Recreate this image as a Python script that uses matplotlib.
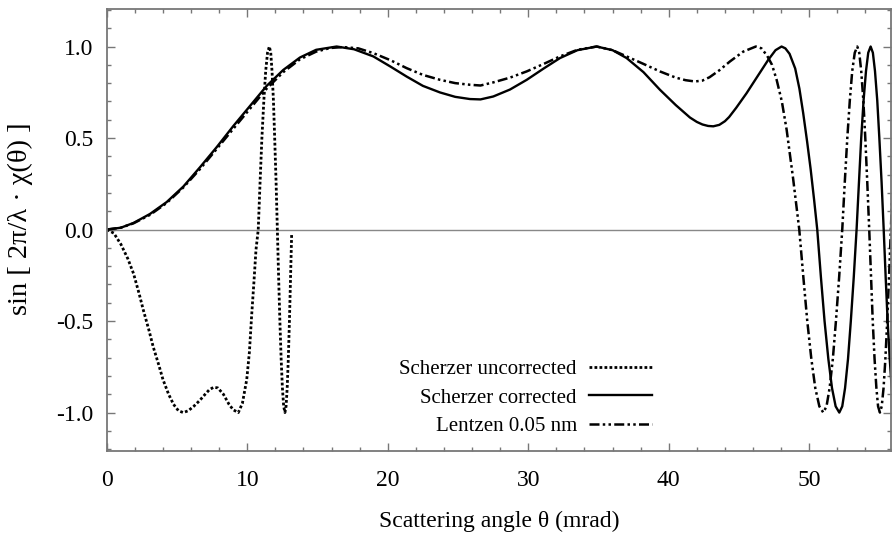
import matplotlib
matplotlib.use("Agg")
import matplotlib.pyplot as plt
from matplotlib.ticker import MultipleLocator

plt.rcParams["font.family"] = ["Liberation Serif", "DejaVu Serif"]

# Scherzer uncorrected (dotted)
theta_unc = [0.0, 0.5, 1.0, 1.5, 1.9, 2.3, 2.6, 3.0, 3.3, 3.7, 4.0, 4.4, 4.75, 5.1,
             5.44, 5.8, 6.2, 6.6, 7.0, 7.3, 7.6, 7.9, 8.3, 8.7, 9.0, 9.36, 9.65,
             9.96, 10.15, 10.31, 10.47, 10.62, 10.78, 10.91, 11.04, 11.18, 11.31,
             11.44, 11.57, 11.67, 11.76, 11.86, 11.95, 12.05, 12.14, 12.23, 12.32,
             12.41, 12.5, 12.59, 12.68, 12.76, 12.84, 12.92, 13.0, 13.08, 13.16]
sin_unc = [0.0, -0.02, -0.08, -0.16, -0.24, -0.35, -0.44, -0.55, -0.64, -0.74, -0.82,
           -0.9, -0.955, -0.99, -1.0, -0.99, -0.965, -0.935, -0.9, -0.875, -0.862,
           -0.865, -0.9, -0.955, -0.985, -1.0, -0.95, -0.82, -0.67, -0.47, -0.29,
           -0.11, 0.0, 0.259, 0.5, 0.707, 0.866, 0.966, 1.0, 0.966, 0.866, 0.707,
           0.5, 0.259, 0.0, -0.259, -0.5, -0.707, -0.866, -0.966, -1.0, -0.966,
           -0.866, -0.707, -0.5, -0.259, -0.02]

# Scherzer corrected (solid)
theta_cor = [0.0, 1.0, 1.9, 3.07, 4.26, 5.45, 6.63, 7.82, 9.0, 10.19, 11.38, 12.56,
             13.75, 14.9, 16.36, 17.6, 18.97, 20.2, 21.34, 22.5, 23.72, 24.8, 25.85,
             26.6, 27.51, 28.7, 29.89, 31.1, 32.26, 33.5, 34.87, 36.0, 37.0, 38.2,
             39.37, 40.5, 41.51, 42.0, 42.4, 42.8, 43.17, 43.6, 44.0, 44.3, 44.8,
             45.54, 46.3, 47.08, 47.6, 48.03, 48.3, 48.6, 49.0, 49.3, 49.57, 49.85,
             50.1, 50.35, 50.57, 50.83, 51.09, 51.36, 51.62, 51.88, 52.14, 52.35,
             52.55, 52.76, 52.96, 53.17, 53.37, 53.54, 53.7, 53.87, 54.04, 54.2,
             54.37, 54.53, 54.68, 54.84, 54.99, 55.15, 55.3, 55.44, 55.58, 55.73,
             55.87, 56.01]
sin_cor = [0.0, 0.01, 0.036, 0.085, 0.15, 0.235, 0.34, 0.45, 0.565, 0.675, 0.785,
           0.872, 0.94, 0.982, 1.0, 0.985, 0.946, 0.89, 0.836, 0.785, 0.749, 0.725,
           0.713, 0.711, 0.727, 0.765, 0.818, 0.88, 0.937, 0.98, 1.0, 0.98, 0.937,
           0.86, 0.764, 0.68, 0.612, 0.588, 0.574, 0.566, 0.564, 0.572, 0.592, 0.615,
           0.665, 0.745, 0.835, 0.927, 0.98, 1.0, 0.99, 0.96, 0.88, 0.77, 0.636,
           0.48, 0.33, 0.16, 0.0, -0.259, -0.5, -0.707, -0.866, -0.966, -1.0,
           -0.966, -0.866, -0.707, -0.5, -0.259, 0.0, 0.259, 0.5, 0.707, 0.866,
           0.966, 1.0, 0.966, 0.866, 0.707, 0.5, 0.259, 0.0, -0.259, -0.5, -0.707,
           -0.866, -0.966]

# Lentzen 0.05 nm (dash-dot-dot)
theta_len = [0.0, 1.0, 1.9, 3.07, 4.26, 5.45, 6.63, 7.82, 9.0, 10.19, 11.38, 12.56,
             13.75, 14.9, 15.9, 16.83, 17.9, 18.97, 20.2, 21.34, 22.5, 23.72, 24.8,
             25.85, 26.6, 27.51, 28.7, 29.89, 31.1, 32.26, 33.5, 34.87, 36.0, 37.0,
             38.2, 39.37, 40.5, 41.2, 41.86, 42.4, 42.9, 43.6, 44.35, 45.3, 46.2,
             46.6, 47.0, 47.35, 47.68, 48.05, 48.39, 48.85, 49.29, 49.58, 49.86,
             50.15, 50.43, 50.72, 51.0, 51.23, 51.45, 51.68, 51.9, 52.13, 52.35,
             52.53, 52.71, 52.89, 53.06, 53.24, 53.42, 53.56, 53.7, 53.85, 53.99,
             54.13, 54.27, 54.4, 54.52, 54.65, 54.78, 54.9, 55.03, 55.16, 55.29,
             55.42, 55.55, 55.68, 55.81, 55.94]
sin_len = [0.0, 0.01, 0.034, 0.08, 0.145, 0.23, 0.33, 0.44, 0.55, 0.66, 0.77, 0.86,
           0.93, 0.972, 0.992, 0.997, 0.99, 0.964, 0.925, 0.882, 0.845, 0.818, 0.8,
           0.791, 0.787, 0.804, 0.83, 0.864, 0.905, 0.946, 0.982, 1.0, 0.98, 0.946,
           0.905, 0.864, 0.83, 0.816, 0.809, 0.814, 0.832, 0.87, 0.918, 0.972, 1.0,
           0.99, 0.95, 0.9, 0.818, 0.7, 0.546, 0.28, 0.0, -0.259, -0.5, -0.707,
           -0.866, -0.966, -1.0, -0.966, -0.866, -0.707, -0.5, -0.259, 0.0, 0.259,
           0.5, 0.707, 0.866, 0.966, 1.0, 0.966, 0.866, 0.707, 0.5, 0.259, 0.0,
           -0.259, -0.5, -0.707, -0.866, -0.966, -1.0, -0.966, -0.866, -0.707,
           -0.5, -0.259, 0.0, 0.259]

fig = plt.figure(figsize=(8.92, 5.35), dpi=100)
ax = fig.add_axes([106.8 / 892, 1 - 451 / 535, (891 - 106.8) / 892, (451 - 9) / 535])

ax.axhline(0, color="#888888", linewidth=1.0, zorder=1)

ax.plot(theta_unc, sin_unc, color="black", linewidth=2.0,
        linestyle=(0, (1, 0.8)), dash_capstyle="butt", label="Scherzer uncorrected")
ax.plot(theta_cor, sin_cor, color="black", linewidth=1.7, label="Scherzer corrected")
ax.plot(theta_len, sin_len, color="black", linewidth=1.8,
        linestyle=(0, (4, 1.3, 1, 1.3, 1, 1.3)), dash_capstyle="butt",
        label="Lentzen 0.05 nm")

ax.set_xlim(0, 55.82)
ax.set_ylim(-1.21, 1.205)
ax.xaxis.set_major_locator(MultipleLocator(10))
ax.xaxis.set_minor_locator(MultipleLocator(2))
ax.yaxis.set_major_locator(MultipleLocator(0.5))
ax.yaxis.set_minor_locator(MultipleLocator(0.1))
ax.yaxis.set_major_formatter(plt.FuncFormatter(lambda v, p: f"{v:.1f}"))

ax.tick_params(which="both", direction="in", top=True, right=True, color="#777777",
               labelsize=17)
ax.tick_params(which="major", length=6, width=1.0)
ax.tick_params(which="minor", length=3, width=1.0)
ax.tick_params(axis="x", which="major", pad=14)
ax.tick_params(axis="y", which="major", pad=10)
for s in ax.spines.values():
    s.set_color("#777777")
    s.set_linewidth(1.3)

ax.set_xlabel("Scattering angle θ (mrad)", fontsize=17, labelpad=14)
ax.set_ylabel("sin [ 2π/λ · χ(θ) ]", fontsize=20.5)
ax.yaxis.set_label_coords(-0.094, 0.525)

ax.legend(loc="lower right", bbox_to_anchor=(0.695, 0.034), frameon=False,
          markerfirst=False, fontsize=15, handlelength=3.0, handletextpad=0.6,
          labelspacing=0.42, borderpad=0, borderaxespad=0)

fig.savefig("out.png", dpi=100)
